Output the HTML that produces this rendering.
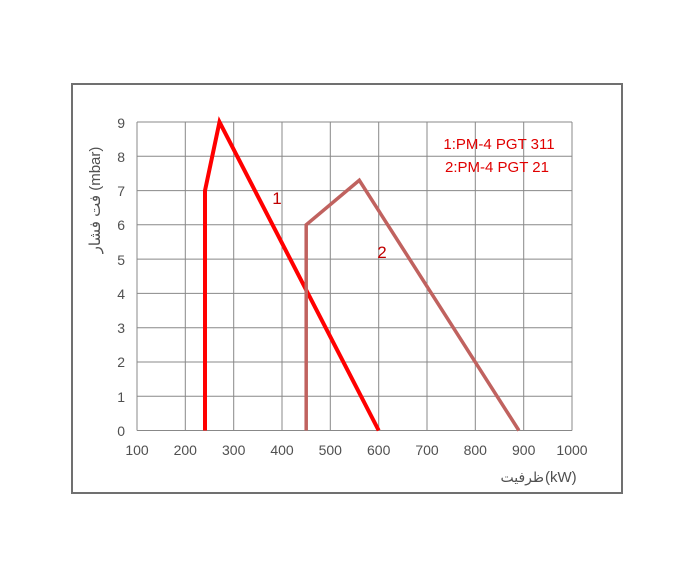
<!DOCTYPE html>
<html><head><meta charset="utf-8"><style>body{margin:0;background:#fff}svg{display:block}</style></head><body>
<svg width="690" height="588" xmlns="http://www.w3.org/2000/svg" font-family="Liberation Sans, DejaVu Sans, sans-serif">
<rect x="72" y="84" width="550" height="409" fill="#fff" stroke="#707070" stroke-width="2"/>
<g stroke="#888" stroke-width="1">
<line x1="137" y1="122" x2="137" y2="430.5"/><line x1="185.3" y1="122" x2="185.3" y2="430.5"/><line x1="233.7" y1="122" x2="233.7" y2="430.5"/><line x1="282" y1="122" x2="282" y2="430.5"/><line x1="330.3" y1="122" x2="330.3" y2="430.5"/><line x1="378.7" y1="122" x2="378.7" y2="430.5"/><line x1="427" y1="122" x2="427" y2="430.5"/><line x1="475.3" y1="122" x2="475.3" y2="430.5"/><line x1="523.7" y1="122" x2="523.7" y2="430.5"/><line x1="572" y1="122" x2="572" y2="430.5"/>
<line x1="137" y1="122" x2="572" y2="122"/><line x1="137" y1="156.3" x2="572" y2="156.3"/><line x1="137" y1="190.6" x2="572" y2="190.6"/><line x1="137" y1="224.8" x2="572" y2="224.8"/><line x1="137" y1="259.1" x2="572" y2="259.1"/><line x1="137" y1="293.4" x2="572" y2="293.4"/><line x1="137" y1="327.7" x2="572" y2="327.7"/><line x1="137" y1="362" x2="572" y2="362"/><line x1="137" y1="396.2" x2="572" y2="396.2"/><line x1="137" y1="430.5" x2="572" y2="430.5"/>
</g>
<g font-size="14" fill="#505050" text-anchor="end">
<text x="125" y="128">9</text><text x="125" y="162">8</text><text x="125" y="196">7</text><text x="125" y="230">6</text><text x="125" y="265">5</text><text x="125" y="299">4</text><text x="125" y="333">3</text><text x="125" y="367">2</text><text x="125" y="402">1</text><text x="125" y="436">0</text>
</g>
<g font-size="14" fill="#505050" text-anchor="middle">
<text x="137" y="455">100</text><text x="185.3" y="455">200</text><text x="233.7" y="455">300</text><text x="282" y="455">400</text><text x="330.3" y="455">500</text><text x="378.7" y="455">600</text><text x="427" y="455">700</text><text x="475.3" y="455">800</text><text x="523.7" y="455">900</text><text x="572" y="455">1000</text>
</g>
<text x="544" y="482" font-size="14" fill="#505050" text-anchor="end">ظرفیت</text>
<text x="545" y="482" font-size="15" fill="#505050" text-anchor="start">(kW)</text>
<text transform="translate(100,200) rotate(-90)" font-size="15" fill="#505050" text-anchor="middle">فت فشار (mbar)</text>
<polyline points="205,430.5 205,190.6 219.5,122 378.7,430.5" fill="none" stroke="#ff0000" stroke-width="4"/>
<polyline points="306.2,430.5 306.2,224.8 359.3,180.3 518.9,430.5" fill="none" stroke="#c0625f" stroke-width="3.5"/>
<text x="277" y="204" font-size="17" fill="#c00000" text-anchor="middle">1</text>
<text x="382" y="258" font-size="17" fill="#c00000" text-anchor="middle">2</text>
<text x="499" y="149" font-size="15" fill="#e00000" text-anchor="middle">1:PM-4 PGT 311</text>
<text x="497" y="172" font-size="15" fill="#e00000" text-anchor="middle">2:PM-4 PGT 21</text>
</svg>
</body></html>
